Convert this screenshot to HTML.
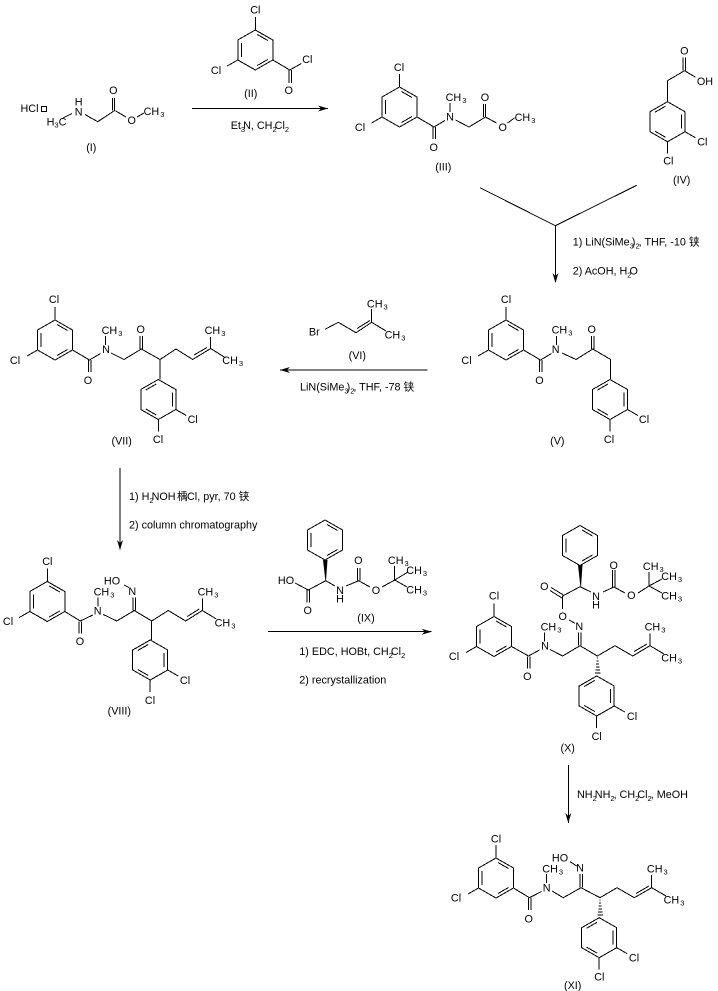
<!DOCTYPE html>
<html><head><meta charset="utf-8"><style>
html,body{margin:0;padding:0;background:#fff}
svg{display:block}
path,line{fill:none;stroke:#000;stroke-width:1;shape-rendering:crispEdges}
polygon{fill:#000;stroke:none}
rect{fill:none;stroke:#000;stroke-width:1;shape-rendering:crispEdges}
text{font-family:"Liberation Sans","Noto Sans CJK SC",sans-serif;font-size:10.8px;fill:#000}
.m{text-anchor:middle}
.s{font-size:7.5px}
</style></head><body>
<svg width="718" height="991" viewBox="0 0 718 991" xmlns="http://www.w3.org/2000/svg">
<!-- I -->
<text x="20.5" y="112">HCl</text><rect x="41.5" y="106.5" width="5" height="5"/>
<text class="m" x="78.7" y="105.5">H</text><text class="m" x="78.7" y="115.5">N</text>
<text class="m" x="56.5" y="125.5">H<tspan class="s" dy="2">3</tspan><tspan dy="-2">C</tspan></text>
<path d="M63,118L72,113.5M85,114.5L97.7,121.7L114.3,110.7V98M112.3,110.7V98M115.3,110.7L126,117M137,117L144,113"/>
<text class="m" x="113.3" y="94">O</text><text class="m" x="131.7" y="124">O</text>
<text class="m" x="154" y="115">CH<tspan class="s" dy="2" dx="1">3</tspan></text>
<text class="m" x="91.3" y="151">(I)</text>
<!-- II -->
<path transform="translate(255.3,50)" d="M0,-20L17.5,-10V10L0,20L-17.5,10V-10ZM2,-15.5L12.5,-9.5M12.5,9.5L2,15.5M-14,7V-7M0,-20V-33M-17.5,10L-28,16M17.5,10L34.5,20L46,13.5M33.5,20V33M36,20V33"/>
<text class="m" x="255.3" y="13.5">Cl</text><text class="m" x="216" y="74">Cl</text><text class="m" x="307.3" y="63">Cl</text><text class="m" x="288.7" y="94">O</text>
<text class="m" x="250.7" y="97">(II)</text>
<path d="M192,108.5H328"/><polygon points="318,105.5 328,108.5 318,111.5 321,108.5"/>
<text x="230.7" y="129">Et<tspan class="s" dy="3">3</tspan><tspan dy="-3" dx="-2">N, CH</tspan><tspan class="s" dy="3">2</tspan><tspan dy="-3" dx="-2">Cl</tspan><tspan class="s" dy="3">2</tspan></text>
<!-- III -->
<path transform="translate(399.5,107)" d="M0,-20L17.5,-10V10L0,20L-17.5,10V-10ZM2,-15.5L12.5,-9.5M12.5,9.5L2,15.5M-14,7V-7M0,-20V-33M-17.5,10L-28,16M17.5,10L34.5,20L45.5,13.5M33.5,20V32M36,20V32M50.5,-4V5M56,13L69.5,20L86,10V-3M84,10V-3M86,10L97,16M108,16L115,11"/>
<text class="m" x="399" y="71">Cl</text><text class="m" x="360" y="131">Cl</text><text class="m" x="433.7" y="151">O</text>
<text class="m" x="450" y="120.5">N</text><text class="m" x="456" y="101">CH<tspan class="s" dy="2" dx="1">3</tspan></text>
<text class="m" x="485" y="101">O</text><text class="m" x="502.7" y="131">O</text><text class="m" x="525" y="121">CH<tspan class="s" dy="2" dx="1">3</tspan></text>
<text class="m" x="443.3" y="170.5">(III)</text>
<!-- IV -->
<path transform="translate(667.5,121.7)" d="M0,-20L17.5,-10V10L0,20L-17.5,10V-10ZM14,-7V7M-2,15.5L-12.5,9.5M-12.5,-9.5L-2,-15.5M17.5,10L28,16M0,20V32M0,-20V-41L17,-51L28,-44.5M15.5,-51V-64M18,-51V-64"/>
<text class="m" x="702.3" y="145.7">Cl</text><text class="m" x="668.3" y="164.7">Cl</text><text class="m" x="684.3" y="54.7">O</text><text class="m" x="705" y="85">OH</text>
<text class="m" x="681.7" y="183.3">(IV)</text>
<!-- merging arrow -->
<path d="M480,187.7L555.3,225.7L636.7,185.3M555.5,225.7V282"/><polygon points="552.5,273 555.5,283 558.5,273 555.5,276"/>
<text x="572.7" y="245.7">1) LiN(SiMe<tspan class="s" dy="3">3</tspan><tspan dy="-3" dx="-2">)</tspan><tspan class="s" dy="3">2</tspan><tspan dy="-3" dx="-1">, THF, -10 铗</tspan></text>
<text x="572.7" y="274.7">2) AcOH, H<tspan class="s" dy="3">2</tspan><tspan dy="-3" dx="-2">O</tspan></text>
<!-- V -->
<path transform="translate(506,340)" d="M0,-20L17.5,-10V10L0,20L-17.5,10V-10ZM2,-15.5L12.5,-9.5M12.5,9.5L2,15.5M-14,7V-7M0,-20V-33M-17.5,10L-28,16M17.5,10L34.5,20L45.5,13.5M33.5,20V32M36,20V32M50.5,-4V5M56,13L70,19.5L86.7,9L104.7,19.5V39M85.5,9V-4M88,9V-4"/>
<path transform="translate(610,399.5)" d="M0,-20L17.5,-10V10L0,20L-17.5,10V-10ZM14,-7V7M-2,15.5L-12.5,9.5M-12.5,-9.5L-2,-15.5M17.5,10L28,16M0,20V32"/>
<text class="m" x="506" y="303">Cl</text><text class="m" x="466.5" y="364">Cl</text><text class="m" x="539.5" y="384">O</text>
<text class="m" x="555.7" y="353">N</text><text class="m" x="562" y="333.5">CH<tspan class="s" dy="2" dx="1">3</tspan></text><text class="m" x="591.7" y="333">O</text>
<text class="m" x="644" y="423">Cl</text><text class="m" x="609" y="443">Cl</text><text class="m" x="557.3" y="444.7">(V)</text>
<!-- VI -->
<text class="m" x="314.3" y="335.7">Br</text>
<path d="M325,329.3L338.3,322.3L356,332.7L371.7,322.3L386,331M357,328.5L370,320.5M371.7,322.3V309"/>
<text class="m" x="377.3" y="307.3">CH<tspan class="s" dy="2" dx="1">3</tspan></text><text class="m" x="395" y="338.3">CH<tspan class="s" dy="2" dx="1">3</tspan></text>
<text class="m" x="357.3" y="359">(VI)</text>
<path d="M427.7,370H280"/><polygon points="290,367 280,370 290,373 287,370"/>
<text x="300" y="390.7">LiN(SiMe<tspan class="s" dy="3">3</tspan><tspan dy="-3" dx="-2">)</tspan><tspan class="s" dy="3">2</tspan><tspan dy="-3" dx="-1">, THF, -78 铗</tspan></text>
<!-- VII -->
<path transform="translate(55,340)" d="M0,-20L17.5,-10V10L0,20L-17.5,10V-10ZM2,-15.5L12.5,-9.5M12.5,9.5L2,15.5M-14,7V-7M0,-20V-33M-17.5,10L-28,16M17.5,10L34.5,20L45.5,13.5M33.5,20V32M36,20V32M50.5,-4V5M56,13L69,19.5L86.3,9L105,19.5L121,9L137.7,19.5L155.7,8.5L170,17.5M85,9V-4M87.5,9V-4M139,15L152,7.5M155.7,8.5V-3M105,19.5V39.3"/>
<path transform="translate(158.3,399.5)" d="M0,-20L17.5,-10V10L0,20L-17.5,10V-10ZM14,-7V7M-2,15.5L-12.5,9.5M-12.5,-9.5L-2,-15.5M17.5,10L28,16M0,20V32"/>
<text class="m" x="54" y="303">Cl</text><text class="m" x="15" y="364">Cl</text><text class="m" x="88" y="384">O</text>
<text class="m" x="106" y="353">N</text><text class="m" x="112" y="334">CH<tspan class="s" dy="2" dx="1">3</tspan></text><text class="m" x="140.7" y="333">O</text>
<text class="m" x="215" y="334">CH<tspan class="s" dy="2" dx="1">3</tspan></text><text class="m" x="232.7" y="364">CH<tspan class="s" dy="2" dx="1">3</tspan></text>
<text class="m" x="192.7" y="423">Cl</text><text class="m" x="158" y="443">Cl</text><text class="m" x="121.7" y="444.7">(VII)</text>
<!-- arrow VII to VIII -->
<path d="M120,468V549.5"/><polygon points="117,540 120,550 123,540 120,543"/>
<text x="129" y="500">1) H<tspan class="s" dy="3">2</tspan><tspan dy="-3" dx="-2">NOH</tspan></text>
<text x="177" y="500">楀</text><text x="187" y="500">Cl, pyr, 70 铗</text>
<text x="129" y="528.3">2) column chromatography</text>
<!-- VIII -->
<path transform="translate(47.3,601.5)" d="M0,-20L17.5,-10V10L0,20L-17.5,10V-10ZM2,-15.5L12.5,-9.5M12.5,9.5L2,15.5M-14,7V-7M0,-20V-33M-17.5,10L-28,16M17.5,10L33,19.5L45.5,13.5M31.5,20V32M34,20V32M50.5,-4V5M56,13L69.4,19.5L87,9L104.4,19.5L121,9L138.4,19.5L155,9L169,17.5M85.5,9V-4M88,9V-4M140,15L152,7.5M155,9V-3M104.4,19.5V38.5"/>
<path d="M129,587.5L124,585"/>
<path transform="translate(150.2,660)" d="M0,-20L17.5,-10V10L0,20L-17.5,10V-10ZM14,-7V7M-2,15.5L-12.5,9.5M-12.5,-9.5L-2,-15.5M17.5,10L28,16M0,20V32"/>
<text class="m" x="47.3" y="565">Cl</text><text class="m" x="8" y="625">Cl</text><text class="m" x="80" y="645">O</text>
<text class="m" x="97.7" y="614.7">N</text><text class="m" x="104" y="595.7">CH<tspan class="s" dy="2" dx="1">3</tspan></text>
<text class="m" x="112" y="584.7">HO</text><text class="m" x="132.3" y="595">N</text>
<text class="m" x="208" y="595.7">CH<tspan class="s" dy="2" dx="1">3</tspan></text><text class="m" x="225" y="626.3">CH<tspan class="s" dy="2" dx="1">3</tspan></text>
<text class="m" x="185" y="684">Cl</text><text class="m" x="150" y="704">Cl</text><text class="m" x="119.3" y="714.7">(VIII)</text>
<!-- IX -->
<path transform="translate(325,540)" d="M0,-20L17.5,-10V10L0,20L-17.5,10V-10ZM2,-15.5L12.5,-9.5M12.5,9.5L2,15.5M-14,7V-7"/>
<polygon points="323,560 327.5,560 326,580.7 325.4,580.7"/>
<path d="M295,583L308.3,590L325.7,580.7L335,586M307,590V602.5M309.5,590V602.5M346,586L358.7,580.7L370,587M357.5,580.7V568M360,580.7V568M382,587L394.7,580L407,587M394.7,580V566M394.7,580L408,572"/>
<text class="m" x="286" y="584">HO</text><text class="m" x="307.7" y="614">O</text>
<text class="m" x="340" y="594">N</text><text class="m" x="340" y="602.5">H</text>
<text class="m" x="358.3" y="564">O</text><text class="m" x="376" y="594">O</text>
<text class="m" x="398.3" y="564">CH<tspan class="s" dy="2" dx="1">3</tspan></text><text class="m" x="416.7" y="574">CH<tspan class="s" dy="2" dx="1">3</tspan></text><text class="m" x="416.7" y="593.3">CH<tspan class="s" dy="2" dx="1">3</tspan></text>
<text class="m" x="366" y="621.7">(IX)</text>
<path d="M268,631.7H431.7"/><polygon points="421.7,628.7 431.7,631.7 421.7,634.7 424.7,631.7"/>
<text x="299.3" y="655">1) EDC, HOBt, CH<tspan class="s" dy="3">2</tspan><tspan dy="-3" dx="-2">Cl</tspan><tspan class="s" dy="3">2</tspan></text>
<text x="299.3" y="683.3">2) recrystallization</text>
<!-- X -->
<path transform="translate(494,636.5)" d="M0,-20L17.5,-10V10L0,20L-17.5,10V-10ZM2,-15.5L12.5,-9.5M12.5,9.5L2,15.5M-14,7V-7M0,-20V-33M-17.5,10L-28,16M17.5,10L34.5,19.5L45.5,13.5M33.5,20V32M36,20V32M50.5,-4V5M56,13L68.7,19.5L86,9.2L103.3,19.5L121,9.2L138.7,19.5L156,9.2L170,17.5M84.7,9.2V-4M87.2,9.2V-4M140,15L153,7.5M156,9.2V-3"/>
<path d="M580,586.7L562.7,596V609M562,598L550,590.5M563.5,595L551,587.5M580,586.7L591,592M603,592L614,587L625,593M612.7,587V570M615.2,587V570M638,593L649,586L662,593M649,586V572M649,586L662,579M569.3,620L575,623.3"/>
<polygon points="578,565 582.5,565 581,586.7 580.4,586.7"/>
<path transform="translate(580,545.5)" d="M0,-20L17.5,-10V10L0,20L-17.5,10V-10ZM2,-15.5L12.5,-9.5M12.5,9.5L2,15.5M-14,7V-7"/>
<path transform="translate(596.7,696)" d="M0,-20L17.5,-10V10L0,20L-17.5,10V-10ZM14,-7V7M-2,15.5L-12.5,9.5M-12.5,-9.5L-2,-15.5M17.5,10L28,16M0,20V32"/>
<path d="M597,658H598M596.5,661H598.5M596,664H599M596,667H599.5M595.5,670H600M595,673H600.5"/>
<text class="m" x="494" y="599.7">Cl</text><text class="m" x="454" y="660">Cl</text><text class="m" x="527.3" y="680">O</text>
<text class="m" x="545" y="649.7">N</text><text class="m" x="551" y="630.7">CH<tspan class="s" dy="2" dx="1">3</tspan></text>
<text class="m" x="579.3" y="630">N</text><text class="m" x="562.7" y="620">O</text><text class="m" x="544.3" y="590">O</text>
<text class="m" x="596" y="600">N</text><text class="m" x="596" y="608.5">H</text>
<text class="m" x="613.7" y="569">O</text><text class="m" x="631.3" y="599">O</text>
<text class="m" x="653.3" y="570">CH<tspan class="s" dy="2" dx="1">3</tspan></text><text class="m" x="671.7" y="580">CH<tspan class="s" dy="2" dx="1">3</tspan></text><text class="m" x="671.7" y="599.7">CH<tspan class="s" dy="2" dx="1">3</tspan></text>
<text class="m" x="655" y="630.7">CH<tspan class="s" dy="2" dx="1">3</tspan></text><text class="m" x="671.7" y="661.7">CH<tspan class="s" dy="2" dx="1">3</tspan></text>
<text class="m" x="632" y="720">Cl</text><text class="m" x="596.7" y="740">Cl</text><text class="m" x="567.7" y="751.7">(X)</text>
<!-- arrow X to XI -->
<path d="M568.3,765V823"/><polygon points="565.3,813 568.3,823 571.3,813 568.3,816"/>
<text x="577" y="798">NH<tspan class="s" dy="3">2</tspan><tspan dy="-3" dx="-2">NH</tspan><tspan class="s" dy="3">2</tspan><tspan dy="-3" dx="-1">, CH</tspan><tspan class="s" dy="3">2</tspan><tspan dy="-3" dx="-2">Cl</tspan><tspan class="s" dy="3">2</tspan><tspan dy="-3" dx="-1">, MeOH</tspan></text>
<!-- XI -->
<path transform="translate(496,878)" d="M0,-20L17.5,-10V10L0,20L-17.5,10V-10ZM2,-15.5L12.5,-9.5M12.5,9.5L2,15.5M-14,7V-7M0,-20V-33M-17.5,10L-28,16M17.5,10L33.5,19.7L45.5,13.5M32.3,20V32M34.8,20V32M50.5,-4V5M56,13L67.3,19.7L85,9.7L104,19.7L121,9.7L138.3,19.7L155.7,9.7L170,18M83.8,9.7V-4M86.3,9.7V-4M140,15.5L153,8M155.7,9.7V-3"/>
<path d="M570,861.7L576.7,866"/>
<path transform="translate(599.2,937.7)" d="M0,-20L17.5,-10V10L0,20L-17.5,10V-10ZM14,-7V7M-2,15.5L-12.5,9.5M-12.5,-9.5L-2,-15.5M17.5,10L28,16M0,20V32"/>
<path d="M599.5,900H600.5M599,903H601M598.5,906H601.5M598.5,909H602M598,912H602.5M597.5,915H603"/>
<text class="m" x="496" y="842.3">Cl</text><text class="m" x="456" y="901.7">Cl</text><text class="m" x="528.7" y="922.3">O</text>
<text class="m" x="546.7" y="891.7">N</text><text class="m" x="552.7" y="872.3">CH<tspan class="s" dy="2" dx="1">3</tspan></text>
<text class="m" x="560" y="861.7">HO</text><text class="m" x="580" y="871.7">N</text>
<text class="m" x="657.3" y="872.3">CH<tspan class="s" dy="2" dx="1">3</tspan></text><text class="m" x="674" y="903.3">CH<tspan class="s" dy="2" dx="1">3</tspan></text>
<text class="m" x="634" y="961.7">Cl</text><text class="m" x="599.3" y="980.7">Cl</text><text class="m" x="572.7" y="989">(XI)</text>
</svg>
</body></html>
